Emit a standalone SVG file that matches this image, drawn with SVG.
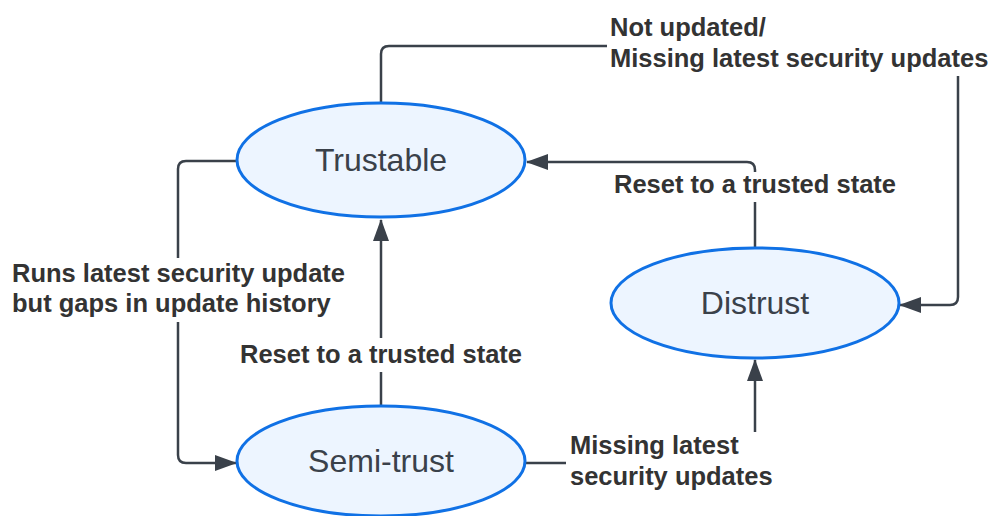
<svg xmlns="http://www.w3.org/2000/svg" width="992" height="516" viewBox="0 0 992 516">
  <style>
    .node ellipse { fill: #edf5ff; stroke: #1071e5; stroke-width: 3; }
    .node text { font-family: "Liberation Sans", Arial, sans-serif; font-size: 32px; fill: #3a414a; text-anchor: middle; dominant-baseline: central; }
    .edge { fill: none; stroke: #3a414a; stroke-width: 2.5; }
    .label { font-family: "Liberation Sans", Arial, sans-serif; font-size: 25.5px; font-weight: bold; fill: #333333; }
  </style>
  <defs>
    <marker id="arrow" viewBox="0 0 22 16" refX="21" refY="8" markerWidth="22" markerHeight="16" markerUnits="userSpaceOnUse" orient="auto">
      <path d="M0,0 L22,8 L0,16 Z" fill="#3a414a"/>
    </marker>
  </defs>
  <rect width="992" height="516" fill="#ffffff"/>

  <g id="connectors">
    <!-- Trustable -> Distrust (not updated) -->
    <path class="edge" d="M381,103 V54 Q381,46 389,46 H607"/>
    <path class="edge" d="M958,76 V297 Q958,305 950,305 H900" marker-end="url(#arrow)"/>
    <!-- Distrust -> Trustable (reset) -->
    <path class="edge" d="M755,248 V202"/>
    <path class="edge" d="M755,172 V170 Q755,162 747,162 H527" marker-end="url(#arrow)"/>
    <!-- Trustable -> Semi-trust (gaps in history) -->
    <path class="edge" d="M237,161 H186 Q178,161 178,169 V258"/>
    <path class="edge" d="M178,322 V455 Q178,463 186,463 H236" marker-end="url(#arrow)"/>
    <!-- Semi-trust -> Trustable (reset) -->
    <path class="edge" d="M381,406 V372"/>
    <path class="edge" d="M381,338 V220" marker-end="url(#arrow)"/>
    <!-- Semi-trust -> Distrust (missing updates) -->
    <path class="edge" d="M526,463 H566"/>
    <path class="edge" d="M755,432 V360" marker-end="url(#arrow)"/>
  </g>

  <g id="labels">
    <text class="label" x="610" y="36">Not updated/</text>
    <text class="label" x="610" y="67">Missing latest security updates</text>
    <text class="label" x="755" y="193" text-anchor="middle">Reset to a trusted state</text>
    <text class="label" x="12" y="282">Runs latest security update</text>
    <text class="label" x="12" y="312">but gaps in update history</text>
    <text class="label" x="381" y="363" text-anchor="middle">Reset to a trusted state</text>
    <text class="label" x="570" y="454">Missing latest</text>
    <text class="label" x="570" y="485">security updates</text>
  </g>

  <g id="trustable" class="node">
    <ellipse cx="381" cy="160" rx="144" ry="57"/>
    <text x="381" y="160">Trustable</text>
  </g>
  <g id="distrust" class="node">
    <ellipse cx="755" cy="303" rx="144" ry="55"/>
    <text x="755" y="303">Distrust</text>
  </g>
  <g id="semi-trust" class="node">
    <ellipse cx="381" cy="461" rx="144" ry="55"/>
    <text x="381" y="461">Semi-trust</text>
  </g>
</svg>
